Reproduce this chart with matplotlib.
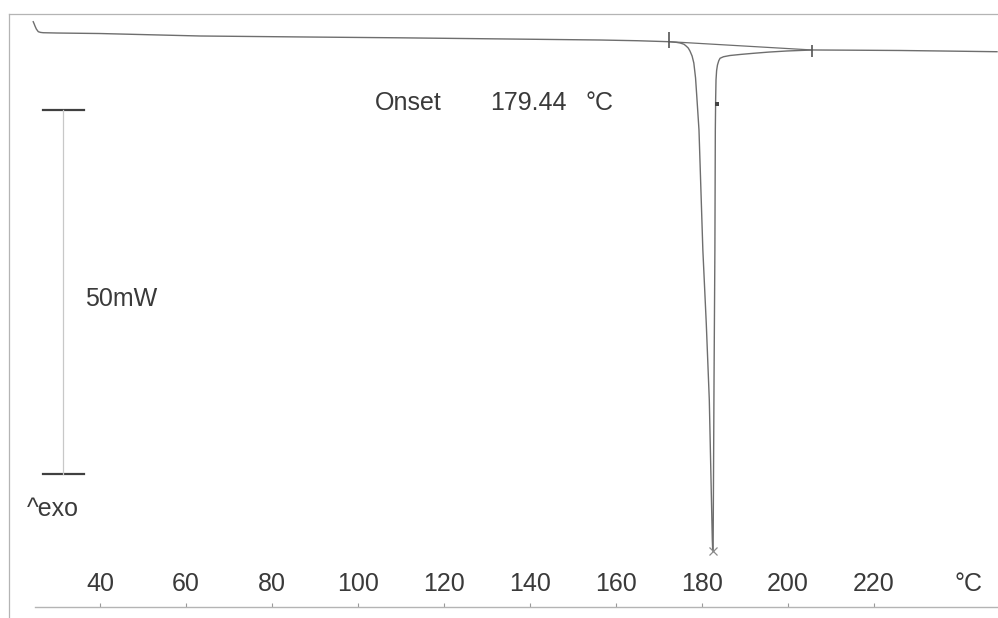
import matplotlib
matplotlib.use("Agg")
import matplotlib.pyplot as plt
from matplotlib.lines import Line2D

plt.rcParams['font.family'] = ['Liberation Sans', 'DejaVu Sans']

# DSC heat-flow curve (temperature in °C, heat flow in mW, exo up)
temp_c = [24.47, 24.70, 24.88, 25.20, 25.65, 26.20, 26.81, 30.0, 40.0, 63.3, 86.5,
          109.8, 133.0, 156.3, 165.0, 172.1, 174.0, 174.9, 175.8, 176.3, 176.8,
          177.2, 177.7, 178.1, 178.5, 178.8, 179.3, 180.2, 181.0, 181.7, 182.2,
          182.4, 182.5,
          182.6, 182.65, 182.8, 183.0, 183.1, 183.18, 183.26, 183.4, 183.6, 183.9,
          184.2, 185.0, 186.5, 189.0, 191.9, 195.5, 199.7, 205.8, 215.0, 226.0,
          237.0, 248.6]
heat_mw = [2.51, 2.20, 1.92, 1.50, 1.14, 1.04, 1.00, 0.96, 0.89, 0.55, 0.42,
           0.30, 0.15, 0.00, -0.10, -0.23, -0.32, -0.41, -0.58, -0.82, -1.10,
           -1.51, -2.20, -3.16, -5.20, -7.83, -12.36, -28.85, -39.0, -49.45, -63.2,
           -68.7, -70.2,
           -68.7, -63.2, -46.7, -28.85, -12.36, -8.00, -5.49, -4.20, -3.43, -2.85,
           -2.51, -2.30, -2.13, -1.98, -1.83, -1.66, -1.51, -1.37, -1.40, -1.44,
           -1.52, -1.61]

# Integration baseline limits and evaluation results
base_temp = [172.4, 205.6]
base_mw = [-0.23, -1.37]
peak_temp, peak_mw = 182.5, -70.2
onset_c = 179.44
onset_mark = (183.45, -8.8)

# Temperature axis
tick_vals = [40, 60, 80, 100, 120, 140, 160, 180, 200, 220]
tick_labels = [str(v) for v in tick_vals]

# Heat-flow scale bar
scale_mw = 50
scale_top = -9.62

ink = '#3a3a3a'
curve_col = '#6e6e6e'
frame_col = '#b4b4b4'

fig = plt.figure(figsize=(9.98, 6.18), dpi=100)
ax = fig.add_axes([0, 0, 1, 1])
ax.set_xlim(16.744, 248.84)
ax.set_ylim(-79.40, 5.495)
ax.patch.set_alpha(0)

for side in ('top', 'left', 'right'):
    ax.spines[side].set_visible(False)
ax.spines['bottom'].set_position(('data', -77.88))
ax.spines['bottom'].set_bounds(24.88, 248.84)
ax.spines['bottom'].set_color(frame_col)
ax.spines['bottom'].set_linewidth(1.0)
ax.set_yticks([])
ax.set_xticks(tick_vals)
ax.tick_params(axis='x', direction='in', length=3, width=0.8,
               color='#9a9a9a', labelbottom=False)

y_lab = -74.7
for v, lab in zip(tick_vals, tick_labels):
    ax.text(v, y_lab, lab, ha='center', va='center', fontsize=18, color=ink)
ax.text(238.8, y_lab, '°C', ha='left', va='center', fontsize=18, color=ink)

# Frame lines of the plot window
fig.add_artist(Line2D([9 / 998, 9 / 998], [0, 1 - 14 / 618],
                      color=frame_col, lw=0.9))
fig.add_artist(Line2D([9 / 998, 1], [1 - 14 / 618, 1 - 14 / 618],
                      color=frame_col, lw=0.9))

# Measurement curve
ax.plot(temp_c, heat_mw, color=curve_col, lw=1.0, solid_joinstyle='round')

# Baseline and its limit markers
ax.plot(base_temp, base_mw, color=curve_col, lw=0.9)
ax.plot([base_temp[0]], [base_mw[0] + 0.25], marker='|', markersize=12,
        color='#555555', mew=1.2)
ax.plot([base_temp[1]], [base_mw[1] - 0.1], marker='|', markersize=8,
        color='#555555', mew=1.2)

# Peak marker and onset marker
ax.plot([peak_temp], [peak_mw], marker='x', markersize=6, color='#8a8a8a', mew=0.9)
ax.plot([onset_mark[0]], [onset_mark[1]], marker='s', markersize=2.2,
        color='#444444', mew=0)

ax.text(103.95, -8.65, 'Onset', ha='left', va='center', fontsize=18, color=ink)
ax.text(130.7, -8.65, f'{onset_c:.2f}', ha='left', va='center', fontsize=18, color=ink)
ax.text(152.8, -8.65, '°C', ha='left', va='center', fontsize=18, color=ink)

# Scale bar
scale_bottom = scale_top - scale_mw
ax.plot([26.74, 36.28], [scale_top, scale_top], color='#404040', lw=1.6)
ax.plot([26.74, 36.28], [scale_bottom, scale_bottom], color='#404040', lw=1.6)
ax.plot([31.4, 31.4], [scale_top, scale_bottom], color='#c8c8c8', lw=0.9)
ax.text(36.5, -35.6, f'{scale_mw}mW', ha='left', va='center', fontsize=18, color=ink)
ax.text(23.0, -64.4, '^exo', ha='left', va='center', fontsize=18, color=ink)

fig.savefig('out.png', dpi=100, facecolor='white')
